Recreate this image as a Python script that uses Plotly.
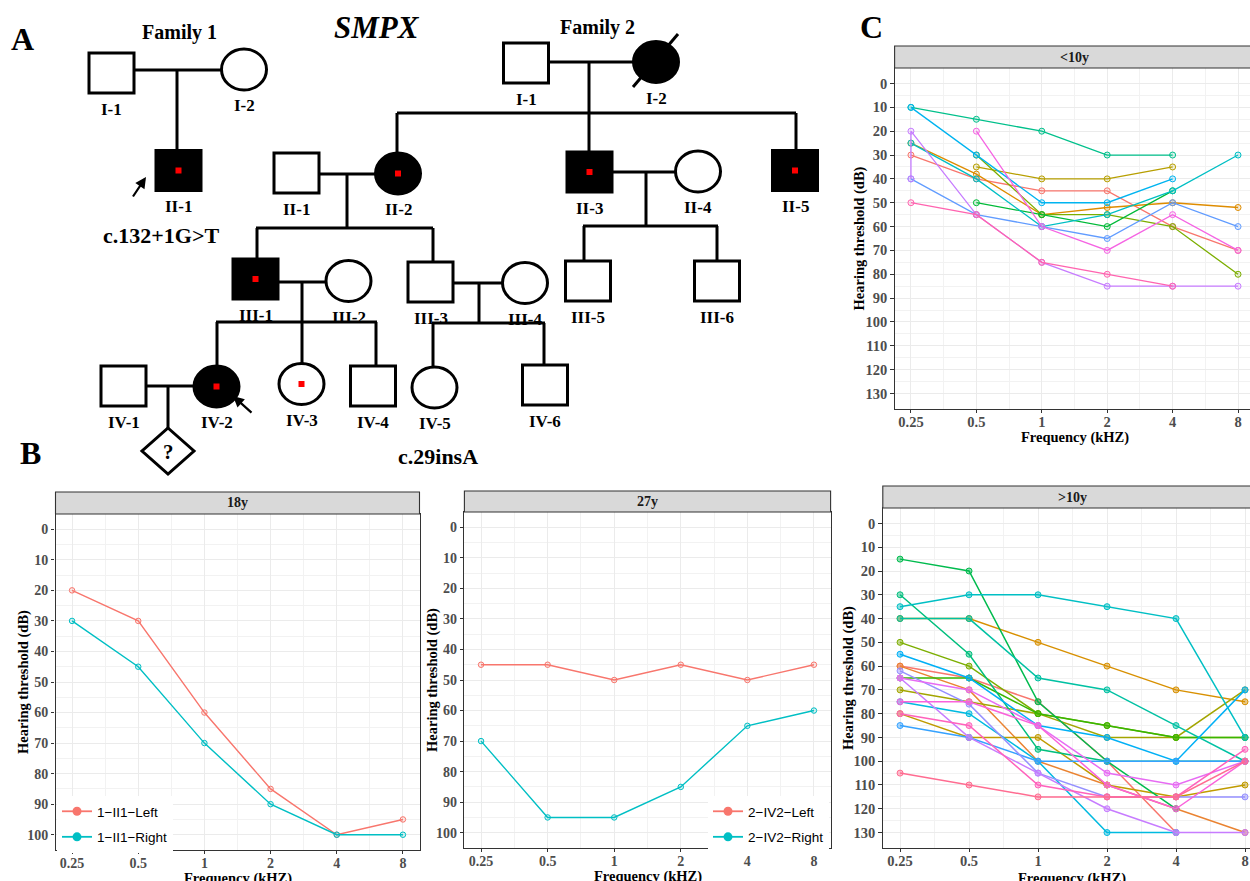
import math
import plotly.graph_objects as go

W, H = 1250, 881
SERIF = "Liberation Serif"
SANS = "Liberation Sans"

# ---------------- data ----------------
freq = [0.25, 0.5, 1, 2, 4, 8]
freq_labels = ["0.25", "0.5", "1", "2", "4", "8"]

# Panel B (18y, family 1 II-1 ; 27y, family 2 IV-2)
b1_left = [20, 30, 60, 85, 100, 95]
b1_right = [30, 45, 70, 90, 100, 100]
b2_left = [45, 45, 50, 45, 50, 45]
b2_right = [70, 95, 95, 85, 65, 60]
b1_names = ["1\u2212II1\u2212Left", "1\u2212II1\u2212Right"]
b2_names = ["2\u2212IV2\u2212Left", "2\u2212IV2\u2212Right"]

# Panel C, <10y : frequencies and thresholds per ear
c1_x = [
    [0.25, 0.5, 1, 2, 4, 8],
    [0.25, 0.5, 1, 2, 4, 8],
    [0.5, 1, 2, 4],
    [0.5, 1, 2, 4, 8],
    [0.5, 1, 2, 4],
    [0.25, 0.5, 1, 2, 4],
    [0.25, 0.5, 1, 2, 4, 8],
    [0.25, 0.5, 1, 2, 4],
    [0.25, 0.5, 1, 2, 4, 8],
    [0.25, 0.25, 0.5, 1, 2, 4, 8],
    [0.5, 1, 2, 4, 8],
    [0.25, 0.5, 1, 2, 4],
]
c1_y = [
    [30, 40, 45, 45, 60, 70],
    [25, 38, 55, 52, 50, 52],
    [35, 40, 40, 35],
    [30, 55, 55, 60, 80],
    [50, 55, 60, 45],
    [10, 15, 20, 30, 30],
    [25, 40, 60, 55, 45, 30],
    [10, 30, 50, 50, 40],
    [40, 55, 60, 65, 50, 60],
    [40, 20, 55, 75, 85, 85, 85],
    [20, 60, 70, 55, 70],
    [50, 55, 75, 80, 85],
]

# Panel C, >10y
c2_x = [
    [0.25, 0.5, 1, 2, 4],
    [0.25, 0.5, 1, 2, 4, 8],
    [0.25, 0.5, 1, 2, 4, 8],
    [0.25, 0.5, 1, 2, 4, 8],
    [0.25, 0.5, 1, 2, 4, 8],
    [0.25, 0.5, 1, 2, 4, 8],
    [0.25, 0.5, 1, 2, 4, 8],
    [0.25, 0.5, 1, 2, 4],
    [0.25, 0.5, 1, 2, 4, 8],
    [0.25, 0.5, 1, 2, 4, 8],
    [0.25, 0.5, 1, 2, 4, 8],
    [0.25, 0.5, 1, 2, 4],
    [0.25, 0.5, 1, 2, 4, 8],
    [0.25, 0.5, 1, 2, 4, 8],
    [0.25, 0.5, 1, 2, 4, 8],
    [0.25, 0.5, 1, 2, 4, 8],
    [0.25, 0.5, 1, 2, 4, 8],
    [0.25, 0.5, 1, 2, 4, 8],
    [0.25, 0.5, 1, 2, 4, 8],
    [0.25, 0.5, 1, 2, 4, 8],
]
c2_y = [
    [60, 65, 75, 100, 130],
    [60, 70, 100, 110, 120, 130],
    [40, 40, 50, 60, 70, 75],
    [80, 90, 90, 110, 115, 110],
    [70, 75, 80, 90, 90, 70],
    [50, 60, 80, 85, 90, 90],
    [65, 65, 80, 85, 90, 90],
    [15, 20, 75, 100, 120],
    [30, 55, 95, 100, 100, 100],
    [40, 40, 65, 70, 85, 100],
    [35, 30, 30, 35, 40, 90],
    [75, 80, 100, 130, 130],
    [55, 65, 85, 90, 100, 70],
    [85, 90, 100, 100, 100, 100],
    [62, 76, 105, 115, 115, 115],
    [65, 90, 105, 120, 130, 130],
    [65, 70, 85, 105, 110, 100],
    [75, 75, 85, 110, 120, 100],
    [80, 85, 110, 115, 115, 95],
    [105, 110, 115, 115, 115, 100],
]

# ---------------- styles ----------------
PAL2 = ["#F8766D", "#00BFC4"]
PAL12 = ["#F8766D", "#DE8C00", "#B79F00", "#7CAE00", "#00BA38", "#00C08B",
         "#00BFC4", "#00B4F0", "#619CFF", "#C77CFF", "#F564E3", "#FF64B0"]
PAL20 = ["#F8766D", "#EA8331", "#D89000", "#C09B00", "#A3A500", "#7CAE00",
         "#39B600", "#00BB4E", "#00BF7D", "#00C1A3", "#00BFC4", "#00BAE0",
         "#00B0F6", "#35A2FF", "#9590FF", "#C77CFF", "#E76BF3", "#FA62DB",
         "#FF62BC", "#FF6C91"]


def rgba(h, a):
    h = h.lstrip('#')
    return "rgba(%d,%d,%d,%s)" % (int(h[0:2], 16), int(h[2:4], 16), int(h[4:6], 16), a)


def px_x(p):
    return p / W


def px_y(p):
    return 1 - p / H


LOG2 = math.log10(2)
minor_x = [math.sqrt(freq[i] * freq[i + 1]) for i in range(len(freq) - 1)]

# panel geometry (pixels): left, right, top, bottom, right extension in log2 units, y range
panels = {
    "b1": dict(ax="", l=55.5, r=419.5, t=514, b=850, rext=0.25, yr=[105, -5], ymax=100,
               strip_t=492, strip="18y", cx=237.5, xt_y=878, yt_x=23, mirror=True, tfs=14),
    "b2": dict(ax="2", l=464.4, r=830.6, t=512, b=848, rext=0.25, yr=[105, -5], ymax=100,
               strip_t=491, strip="27y", cx=647.5, xt_y=876, yt_x=432, mirror=True, tfs=14),
    "c1": dict(ax="3", l=894.6, r=1250, t=68, b=409, rext=3.183 - 3, yr=[136.5, -6.5], ymax=130,
               strip_t=46, strip="<10y", cx=1074.5, xt_y=438, yt_x=859, mirror=False, tfs=14.5),
    "c2": dict(ax="4", l=882.8, r=1250, t=508, b=848, rext=5 / 69, yr=[136.5, -6.5], ymax=130,
               strip_t=486, strip=">10y", cx=1072, xt_y=878, yt_x=848, mirror=False, tfs=14.5),
}

fig = go.Figure()
layout = dict(width=W, height=H, margin=dict(l=0, r=0, t=0, b=0), autosize=False,
              paper_bgcolor="white", plot_bgcolor="rgba(0,0,0,0)", showlegend=True)
shapes = []
annotations = []

for key, p in panels.items():
    xa = "xaxis" + p["ax"]
    ya = "yaxis" + p["ax"]
    xr = "x" + p["ax"]
    yr = "y" + p["ax"]
    layout[xa] = dict(
        domain=[px_x(p["l"]), px_x(p["r"])], anchor=yr, type="log",
        range=[math.log10(0.25) - 0.25 * LOG2, math.log10(8) + p["rext"] * LOG2],
        tickmode="array", tickvals=freq, ticktext=freq_labels,
        showline=True, mirror=True, linecolor="#333333", linewidth=1.1,
        ticks="outside", ticklen=3, tickwidth=1, tickcolor="#333333",
        ticklabelstandoff=-3,
        showgrid=True, gridcolor="#EBEBEB", gridwidth=1.1, zeroline=False,
        minor=dict(tickmode="array", tickvals=minor_x, showgrid=True,
                   gridcolor="#F2F2F2", gridwidth=0.7, ticks=""),
        tickfont=dict(family=SERIF, size=p["tfs"], color="#4D4D4D", weight="bold"),
        fixedrange=True,
    )
    layout[ya] = dict(
        domain=[px_y(p["b"]), px_y(p["t"])], anchor=xr, range=p["yr"],
        tickmode="array", tickvals=list(range(0, p["ymax"] + 1, 10)),
        showline=True, mirror=p["mirror"], linecolor="#333333", linewidth=1.1,
        ticks="outside", ticklen=3.5, tickwidth=1, tickcolor="#333333",
        showgrid=True, gridcolor="#EBEBEB", gridwidth=1.1, zeroline=False,
        minor=dict(tickmode="array", tickvals=list(range(5, p["ymax"] + 1, 10)), showgrid=True,
                   gridcolor="#F2F2F2", gridwidth=0.7, ticks=""),
        tickfont=dict(family=SERIF, size=p["tfs"], color="#4D4D4D", weight="bold"),
        fixedrange=True,
    )
    # strip
    shapes.append(dict(type="rect", xref="paper", yref="paper",
                       x0=px_x(p["l"]), x1=px_x(p["r"]) if p["r"] < W else 1.01,
                       y0=px_y(p["t"]), y1=px_y(p["strip_t"]),
                       fillcolor="#D9D9D9", line=dict(color="#333333", width=1.1), layer="above"))
    annotations.append(dict(xref="paper", yref="paper", x=px_x(p["cx"]),
                            y=px_y((p["t"] + p["strip_t"]) / 2), text=p["strip"], showarrow=False,
                            font=dict(family=SERIF, size=14, color="#1A1A1A", weight="bold"),
                            xanchor="center", yanchor="middle"))
    annotations.append(dict(xref="paper", yref="paper", x=px_x(p["cx"]), y=px_y(p["xt_y"]),
                            text="Frequency (kHZ)", showarrow=False,
                            font=dict(family=SERIF, size=14.5, color="black", weight="bold"),
                            xanchor="center", yanchor="middle"))
    annotations.append(dict(xref="paper", yref="paper", x=px_x(p["yt_x"]),
                            y=px_y((p["t"] + p["b"]) / 2), text="Hearing threshold (dB)",
                            showarrow=False, textangle=-90,
                            font=dict(family=SERIF, size=14.5, color="black", weight="bold"),
                            xanchor="center", yanchor="middle"))


def add_series(x, y, color, ax, size=5.5, fill_a=0.15, lw=1.4):
    fig.add_trace(go.Scatter(
        x=x, y=y, mode="lines+markers", xaxis="x" + ax, yaxis="y" + ax,
        line=dict(color=color, width=lw),
        marker=dict(size=size, color=rgba(color, fill_a), line=dict(color=color, width=1)),
        showlegend=False, hoverinfo="skip"))


# Panel B traces
for vals, c in zip([b1_left, b1_right], PAL2):
    add_series(freq, vals, c, "")
for vals, c in zip([b2_left, b2_right], PAL2):
    add_series(freq, vals, c, "2")
# legend keys
for name, c in zip(b1_names, PAL2):
    fig.add_trace(go.Scatter(x=[None], y=[None], mode="lines+markers", name=name,
                             line=dict(color=c, width=1.8), marker=dict(size=9, color=c),
                             legend="legend", legendgroup=name))
for name, c in zip(b2_names, PAL2):
    fig.add_trace(go.Scatter(x=[None], y=[None], mode="lines+markers", name=name,
                             line=dict(color=c, width=1.8), marker=dict(size=9, color=c),
                             xaxis="x2", yaxis="y2", legend="legend2", legendgroup=name))

# Panel C traces
for x, y, c in zip(c1_x, c1_y, PAL12):
    add_series(x, y, c, "3", size=6, fill_a=0.15, lw=1.3)
for x, y, c in zip(c2_x, c2_y, PAL20):
    add_series(x, y, c, "4", size=6, fill_a=0.45, lw=1.5)

legend_common = dict(bgcolor="white", borderwidth=0, font=dict(family=SANS, size=13.5, color="black"),
                     tracegroupgap=5, itemwidth=30, xanchor="left", yanchor="top")
layout["legend"] = dict(x=px_x(57), y=px_y(796), **legend_common)
layout["legend2"] = dict(x=px_x(708), y=px_y(796), **legend_common)

# ---------------- pedigree (diagram layout, pixel coordinates) ----------------
SQ_W, SQ_H = 45, 40
C_RX, C_RY = 22.5, 20.5
ped_label = ["I-1", "I-2", "II-1",
             "I-1", "I-2", "II-1", "II-2", "II-3", "II-4", "II-5",
             "III-1", "III-2", "III-3", "III-4", "III-5", "III-6",
             "IV-1", "IV-2", "IV-3", "IV-4", "IV-5", "IV-6"]
ped_cx = [111.5, 244, 178.5,
          526, 656, 296.5, 398, 589.5, 698, 795,
          255.5, 348.5, 430.5, 525, 588, 717,
          123.5, 216.5, 301.5, 373, 434.5, 545]
ped_cy = [73, 69.5, 170.5,
          63, 62, 173, 173.5, 172, 171.5, 170.5,
          279, 281, 282, 283, 281, 281,
          386, 386.5, 384, 386, 387.5, 385]
ped_sex = ["m", "f", "m",
           "m", "f", "m", "f", "m", "f", "m",
           "m", "f", "m", "f", "m", "m",
           "m", "f", "f", "m", "f", "m"]
ped_aff = [0, 0, 1,
           0, 1, 0, 1, 1, 0, 1,
           1, 0, 0, 0, 0, 0,
           0, 1, 0, 0, 0, 0]
ped_dot = [0, 0, 1,
           0, 0, 0, 1, 1, 0, 1,
           1, 0, 0, 0, 0, 0,
           0, 1, 1, 0, 0, 0]
ped_lines = [
    (134, 70, 222, 70), (177, 70, 177, 150),
    (548, 62, 633, 62), (589, 62, 589, 152), (397, 113, 796, 113),
    (397, 113, 397, 153), (796, 113, 796, 150),
    (319, 174, 375, 174), (347, 174, 347, 228), (256, 228, 433, 228),
    (257, 228, 257, 259), (433, 228, 433, 262),
    (612, 172, 676, 172), (646, 172, 646, 226), (583, 226, 718, 226),
    (584, 226, 584, 261), (717, 226, 717, 261),
    (278, 282, 326, 282), (302, 282, 302, 364), (216, 322, 377, 322),
    (217, 322, 217, 366), (376, 322, 376, 366),
    (453, 283, 503, 283), (479, 283, 479, 323), (432, 323, 545, 323),
    (433, 323, 433, 368), (544, 323, 544, 365),
    (146, 386, 194, 386), (168, 386, 168, 428),
    (633, 87, 678, 34),
]
LW = 3
PR = dict(xref="x5", yref="y5", layer="above")
for cx, cy, sex, aff, dot in zip(ped_cx, ped_cy, ped_sex, ped_aff, ped_dot):
    fill = "black" if aff else "white"
    if sex == "m":
        shapes.append(dict(type="rect", x0=cx - SQ_W / 2, x1=cx + SQ_W / 2, y0=cy - SQ_H / 2,
                           y1=cy + SQ_H / 2, fillcolor=fill, line=dict(color="black", width=LW), **PR))
    else:
        shapes.append(dict(type="circle", x0=cx - C_RX, x1=cx + C_RX, y0=cy - C_RY, y1=cy + C_RY,
                           fillcolor=fill, line=dict(color="black", width=LW), **PR))
for (x0, y0, x1, y1) in ped_lines:
    shapes.append(dict(type="line", x0=x0, y0=y0, x1=x1, y1=y1,
                       line=dict(color="black", width=LW), **PR))
for cx, cy, dot in zip(ped_cx, ped_cy, ped_dot):
    if dot:
        shapes.append(dict(type="rect", x0=cx - 3, x1=cx + 3, y0=cy - 3, y1=cy + 3,
                           fillcolor="#FF0000", line=dict(width=0), **PR))
# unknown-sex pregnancy (diamond)
shapes.append(dict(type="path", path="M 168 428 L 194 451 L 168 474 L 142 451 Z",
                   fillcolor="white", line=dict(color="black", width=LW), **PR))

PF = dict(xref="x5", yref="y5", showarrow=False, xanchor="center", yanchor="middle")
for lab, cx, cy in zip(ped_label, ped_cx, ped_cy):
    annotations.append(dict(x=cx, y=cy + 36, text=lab,
                            font=dict(family=SERIF, size=17, color="black", weight="bold"), **PF))
texts = [("A", 22, 39, 32, "normal"), ("B", 30, 453, 32, "normal"), ("C", 871, 27, 32, "normal"),
         ("Family 1", 179, 32, 20, "normal"), ("Family 2", 597, 27, 20, "normal"),
         ("c.132+1G>T", 161, 235, 22, "normal"), ("c.29insA", 438, 456, 22, "normal"),
         ("SMPX", 377, 27, 31, "italic"), ("?", 168, 452, 21, "normal")]
for t, x, y, s, st in texts:
    annotations.append(dict(x=x, y=y, text=t,
                            font=dict(family=SERIF, size=s, color="black", weight="bold", style=st),
                            **PF))
# proband arrows
for (hx, hy, tx, ty) in [(146, 177, 132, 198), (233, 396, 253, 414)]:
    annotations.append(dict(x=hx, y=hy, ax=tx, ay=ty, axref="x5", ayref="y5", xref="x5", yref="y5",
                            showarrow=True, arrowhead=2, arrowsize=1, arrowwidth=2.2,
                            arrowcolor="black", text=""))

fig.add_trace(go.Scatter(x=[None], y=[None], xaxis="x5", yaxis="y5", showlegend=False,
                         hoverinfo="skip"))
layout["xaxis5"] = dict(domain=[0, 1], range=[0, W], visible=False, anchor="y5", fixedrange=True)
layout["yaxis5"] = dict(domain=[0, 1], range=[H, 0], visible=False, anchor="x5", fixedrange=True)

layout["shapes"] = shapes
layout["annotations"] = annotations
fig.update_layout(**layout)
fig.write_html("out.html", config={"displayModeBar": False},
               post_script="document.body.style.margin='0';document.body.style.padding='0';"
                           "document.body.style.overflow='hidden';")
